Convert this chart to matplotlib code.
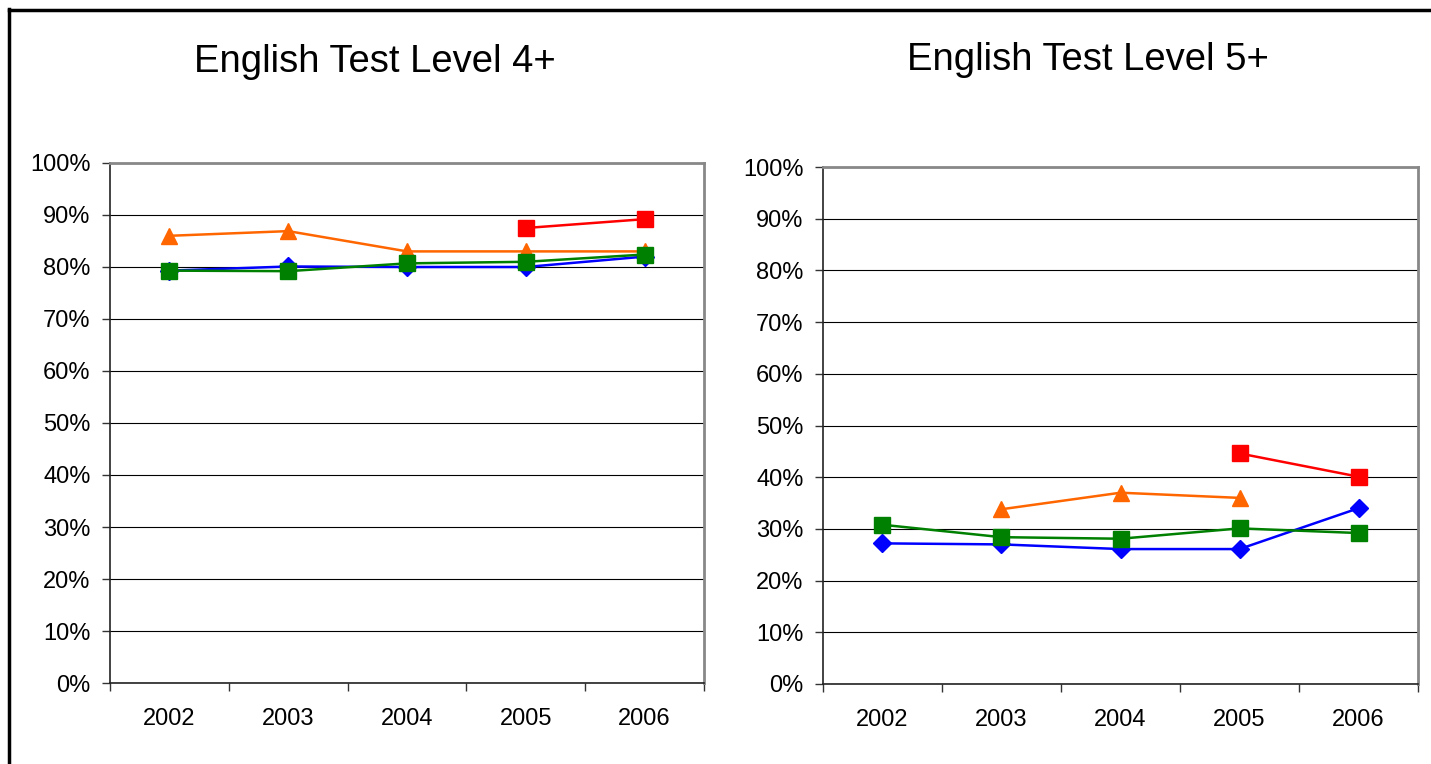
import numpy as np
import matplotlib
matplotlib.use("Agg")
import matplotlib.pyplot as plt
from matplotlib.lines import Line2D
from matplotlib.ticker import FuncFormatter

plt.rcParams['font.family'] = ['Liberation Sans', 'DejaVu Sans']

years = ["2002", "2003", "2004", "2005", "2006"]
nan = np.nan

# Level 4+
l4_blue = [79.3, 80.1, 80.0, 80.0, 82.0]
l4_orange = [86.0, 86.9, 83.0, 83.0, 83.0]
l4_red = [nan, nan, nan, 87.5, 89.2]
l4_green = [79.3, 79.2, 80.7, 81.0, 82.4]

# Level 5+
l5_blue = [27.2, 27.0, 26.1, 26.1, 34.0]
l5_orange = [nan, 33.8, 37.0, 36.0, nan]
l5_red = [nan, nan, nan, 44.6, 40.1]
l5_green = [30.8, 28.4, 28.1, 30.1, 29.2]

W, H = 1431, 764
fig = plt.figure(figsize=(W / 100, H / 100), dpi=100)

# frame lines (top and left)
fig.add_artist(Line2D([8.5 / W, 8.5 / W], [0, 1 - 8.5 / H], transform=fig.transFigure, color='black', lw=2.5))
fig.add_artist(Line2D([8.5 / W, 1], [1 - 10 / H, 1 - 10 / H], transform=fig.transFigure, color='black', lw=2.5))

def make_ax(rect, title, tx, ty, blue, orange, red, green):
    ax = fig.add_axes(rect)
    x = np.arange(len(years))
    ax.plot(x, blue, color='#0000FF', marker='D', ms=9.5, lw=1.8, zorder=3)
    ax.plot(x, orange, color='#FF6600', marker='^', ms=12, lw=1.8, zorder=3)
    ax.plot(x, red, color='#FF0000', marker='s', ms=11, lw=1.8, zorder=3)
    ax.plot(x, green, color='#008000', marker='s', ms=11, lw=1.8, zorder=4)
    ax.set_xlim(-0.5, len(years) - 0.5)
    ax.set_ylim(0, 100)
    ax.set_yticks(np.arange(0, 101, 10))
    ax.yaxis.set_major_formatter(FuncFormatter(lambda v, p: f"{int(v)}%"))
    ax.set_xticks(np.arange(-0.5, len(years), 1.0))
    ax.set_xticklabels([])
    ax.set_xticks(x, minor=True)
    ax.set_xticklabels(years, minor=True)
    ax.tick_params(axis='x', which='minor', length=0, pad=18, labelsize=17)
    ax.tick_params(axis='x', which='major', length=6, width=1, direction='out', color='#333333')
    ax.tick_params(axis='y', length=6, width=1, direction='out', labelsize=17, pad=8, color='#333333')
    ax.grid(axis='y', color='black', lw=0.8)
    ax.set_axisbelow(True)
    for s in ['left', 'bottom']:
        ax.spines[s].set_color('#222222')
        ax.spines[s].set_linewidth(1.2)
    for s in ['top', 'right']:
        ax.spines[s].set_color('#888888')
        ax.spines[s].set_linewidth(2)
    fig.text(tx, ty, title, ha='center', va='center', fontsize=27.5)
    return ax

make_ax([110 / W, 1 - 683 / H, (704 - 110) / W, (683 - 163) / H], "English Test Level 4+",
        375 / W, 1 - 62 / H, l4_blue, l4_orange, l4_red, l4_green)
make_ax([823 / W, 1 - 684 / H, (1418 - 823) / W, (684 - 167) / H], "English Test Level 5+",
        1088 / W, 1 - 60 / H, l5_blue, l5_orange, l5_red, l5_green)

fig.savefig("out.png", dpi=100)
